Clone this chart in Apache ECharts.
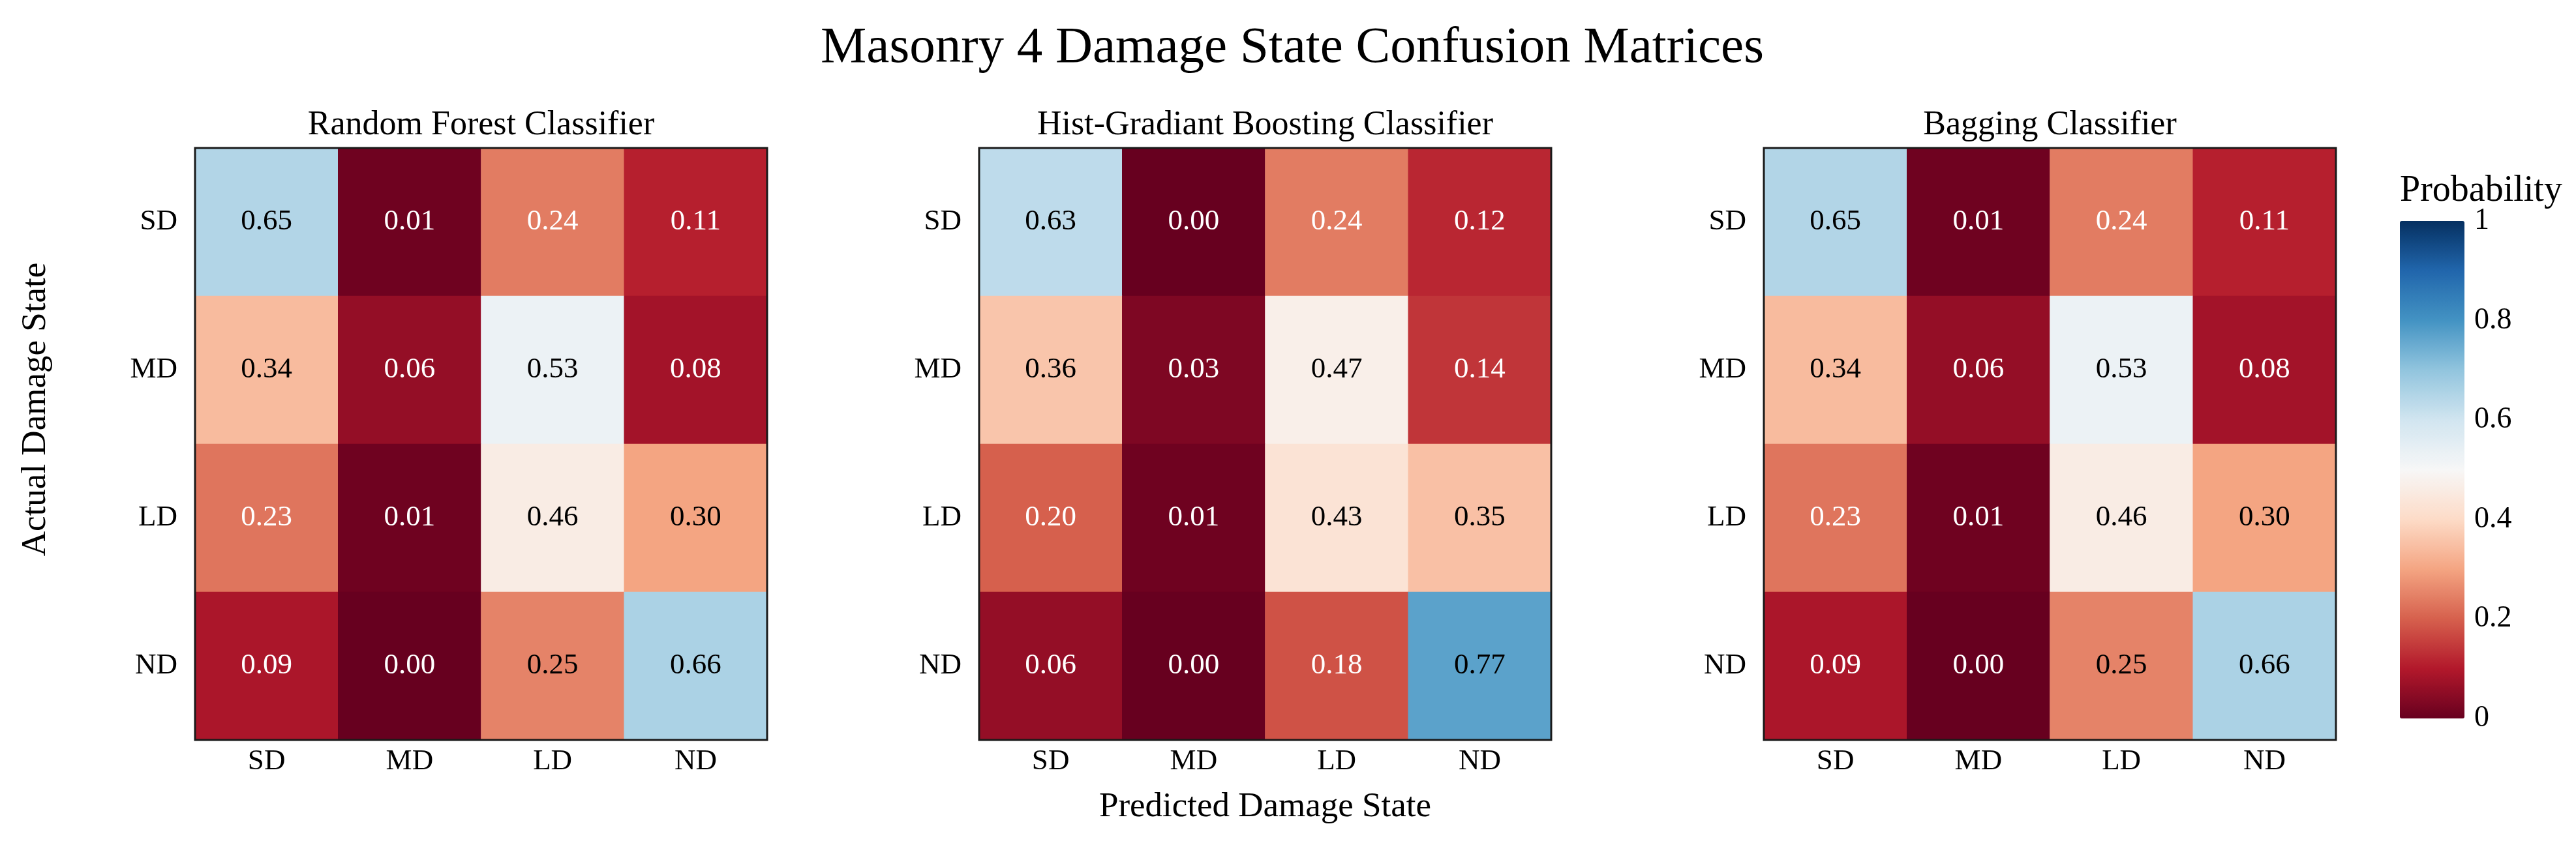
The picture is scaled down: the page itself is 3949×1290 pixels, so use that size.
<!DOCTYPE html>
<html>
<head>
<meta charset="utf-8">
<script src="https://cdn.jsdelivr.net/npm/echarts@6/dist/echarts.min.js"></script>
<style>
html, body { margin: 0; padding: 0; background: #fff; }
#chart { width: 3949px; height: 1290px; }
</style>
</head>
<body>
<div id="chart"></div>
<script>
// ---- data ----
const predictedCats = ['SD', 'MD', 'LD', 'ND'];
const actualCats = ['SD', 'MD', 'LD', 'ND'];
const modelNames = ['Random Forest Classifier', 'Hist-Gradiant Boosting Classifier', 'Bagging Classifier'];

const randomForest = [
  [0.65, 0.01, 0.24, 0.11],
  [0.34, 0.06, 0.53, 0.08],
  [0.23, 0.01, 0.46, 0.30],
  [0.09, 0.00, 0.25, 0.66]
];
const histGradBoost = [
  [0.63, 0.00, 0.24, 0.12],
  [0.36, 0.03, 0.47, 0.14],
  [0.20, 0.01, 0.43, 0.35],
  [0.06, 0.00, 0.18, 0.77]
];
const bagging = [
  [0.65, 0.01, 0.24, 0.11],
  [0.34, 0.06, 0.53, 0.08],
  [0.23, 0.01, 0.46, 0.30],
  [0.09, 0.00, 0.25, 0.66]
];
const matrices = [randomForest, histGradBoost, bagging];

const colorbarTicks = [0, 0.2, 0.4, 0.6, 0.8, 1];

// ---- styling ----
const FONT = "'Liberation Serif', 'Times New Roman', serif";
const RdBu = ['#67001f', '#b2182b', '#d6604d', '#f4a582', '#fddbc7', '#f7f7f7',
              '#d1e5f0', '#92c5de', '#4393c3', '#2166ac', '#053061'];

const gridLefts = [299, 1501, 2704];
const gridWidth = 877;
const gridTop = 227;
const gridHeight = 908;

const chart = echarts.init(document.getElementById('chart'), null, { renderer: 'canvas' });

const grids = [], xAxes = [], yAxes = [], series = [], titles = [];

titles.push({
  text: 'Masonry 4 Damage State Confusion Matrices',
  left: 1981, top: 35, textAlign: 'center', padding: 0,
  textStyle: { fontFamily: FONT, fontSize: 79, fontWeight: 'normal', color: '#000' }
});

matrices.forEach((m, k) => {
  grids.push({
    left: gridLefts[k], top: gridTop, width: gridWidth, height: gridHeight,
    show: true, borderColor: '#1a1a1a', borderWidth: 3, backgroundColor: 'transparent', z: 10
  });
  xAxes.push({
    type: 'category', gridIndex: k, data: predictedCats, position: 'bottom',
    axisLine: { show: false }, axisTick: { show: false }, splitLine: { show: false },
    axisLabel: { fontFamily: FONT, fontSize: 45, color: '#000', margin: 11 },
    name: k === 1 ? 'Predicted Damage State' : '',
    nameLocation: 'middle', nameGap: 77,
    nameTextStyle: { fontFamily: FONT, fontSize: 53, color: '#000' }
  });
  yAxes.push({
    type: 'category', gridIndex: k, data: actualCats, inverse: true,
    axisLine: { show: false }, axisTick: { show: false }, splitLine: { show: false },
    axisLabel: { fontFamily: FONT, fontSize: 45, color: '#000', margin: 27 }
  });
  const data = [];
  m.forEach((row, r) => {
    row.forEach((v, c) => {
      data.push({ value: [c, r, v], label: { color: v < 0.25 ? '#ffffff' : '#000000' } });
    });
  });
  series.push({
    type: 'heatmap', xAxisIndex: k, yAxisIndex: k, data: data,
    label: {
      show: true, fontFamily: FONT, fontSize: 45,
      formatter: p => p.value[2].toFixed(2)
    },
    itemStyle: { borderWidth: 0 },
    emphasis: { disabled: true }
  });
  titles.push({
    text: modelNames[k],
    left: gridLefts[k] + gridWidth / 2, top: 166, textAlign: 'center', padding: 0,
    textStyle: { fontFamily: FONT, fontSize: 52, fontWeight: 'normal', color: '#000' }
  });
});

// colorbar axis grid
const cbLeft = 3679, cbTop = 339, cbWidth = 99, cbHeight = 763;
grids.push({ left: cbLeft, top: cbTop, width: cbWidth, height: cbHeight, show: false });
xAxes.push({ type: 'value', gridIndex: 3, show: false, min: 0, max: 1 });
yAxes.push({
  type: 'value', gridIndex: 3, position: 'right', min: 0, max: 1, interval: 0.2,
  axisLine: { show: false }, axisTick: { show: false }, splitLine: { show: false },
  axisLabel: {
    fontFamily: FONT, fontSize: 46, color: '#000', margin: 15,
    formatter: v => {
      const t = colorbarTicks.find(x => Math.abs(x - v) < 1e-9);
      if (t === undefined) return '';
      return (t === 0 || t === 1) ? String(t) : t.toFixed(1);
    }
  }
});

titles.push({
  text: 'Probability', left: cbLeft, top: 265, padding: 0,
  textStyle: { fontFamily: FONT, fontSize: 56, fontWeight: 'normal', color: '#000' }
});

const option = {
  backgroundColor: '#ffffff',
  animation: false,
  title: titles,
  grid: grids,
  xAxis: xAxes,
  yAxis: yAxes,
  visualMap: {
    type: 'continuous', min: 0, max: 1, dimension: 2,
    seriesIndex: [0, 1, 2],
    calculable: false, realtime: false, hoverLink: false,
    orient: 'vertical',
    left: cbLeft, top: cbTop, itemWidth: cbWidth, itemHeight: cbHeight,
    padding: 0, text: null, showLabel: false,
    inRange: { color: RdBu }
  },
  graphic: [{
    type: 'text', x: 55, y: 628, rotation: Math.PI / 2,
    style: {
      text: 'Actual Damage State', font: '53px ' + FONT, fill: '#000',
      align: 'center', verticalAlign: 'middle'
    }
  }],
  series: series
};

chart.setOption(option);
</script>
</body>
</html>
